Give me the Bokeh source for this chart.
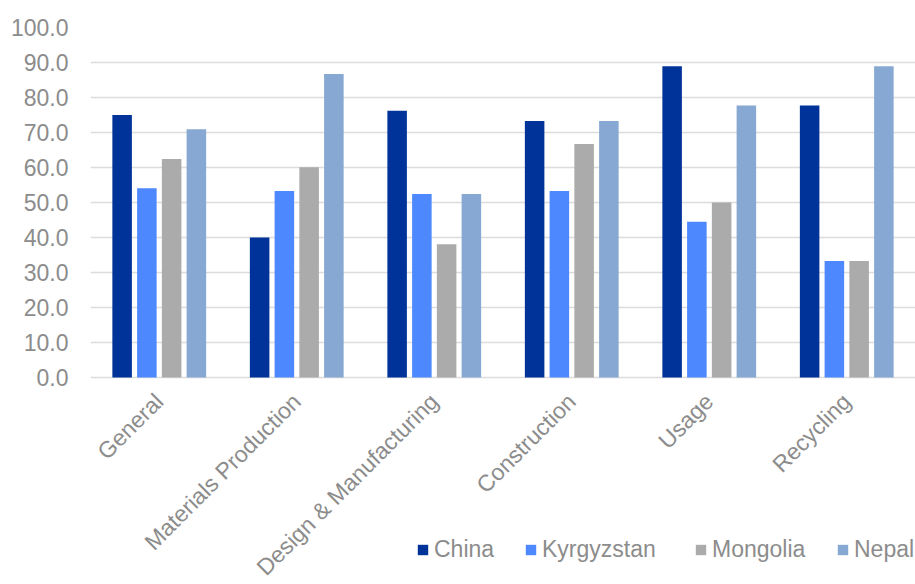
from bokeh.plotting import figure
from bokeh.models import (ColumnDataSource, FactorRange, Range1d, FixedTicker,
                          NumeralTickFormatter, Legend, LegendItem)
from bokeh.transform import dodge
from bokeh.embed import file_html
from bokeh.resources import INLINE
import math

categories = ["General", "Materials Production", "Design & Manufacturing",
              "Construction", "Usage", "Recycling"]
series_names = ["China", "Kyrgyzstan", "Mongolia", "Nepal"]
china = [75.0, 40.0, 76.2, 73.3, 88.9, 77.7]
kyrgyzstan = [54.1, 53.3, 52.4, 53.3, 44.5, 33.3]
mongolia = [62.4, 60.1, 38.1, 66.7, 50.0, 33.3]
nepal = [70.9, 86.7, 52.4, 73.3, 77.7, 88.9]
y_ticks = [0, 10, 20, 30, 40, 50, 60, 70, 80, 90, 100]

colors = ["#003399", "#4d88ff", "#ababab", "#86a8d2"]
offsets = [-0.27, -0.09, 0.09, 0.27]
legend_x = [326, 434, 604, 746]
FONT = "Liberation Sans"
TXT = "#8c8c8c"

src = ColumnDataSource(dict(cats=categories, China=china, Kyrgyzstan=kyrgyzstan,
                            Mongolia=mongolia, Nepal=nepal))

# frame spans the whole lower area so the legend below the bars is not clipped
p = figure(x_range=FactorRange(*categories, range_padding=0),
           y_range=Range1d(100 - 557 / 3.5, 100), width=915, height=584,
           output_backend="svg", toolbar_location=None,
           min_border_left=90, min_border_right=0, min_border_top=27,
           min_border_bottom=0)
p.outline_line_color = None
p.xgrid.grid_line_color = None
p.ygrid.grid_line_color = "#dcdcdc"
p.ygrid.grid_line_width = 1.5
p.ygrid.ticker = FixedTicker(ticks=y_ticks)
p.yaxis.ticker = FixedTicker(ticks=y_ticks)
p.yaxis.formatter = NumeralTickFormatter(format="0.0")
p.xaxis.fixed_location = 0
for ax in (p.xaxis, p.yaxis):
    ax.axis_line_color = None
    ax.major_tick_line_color = None
    ax.minor_tick_line_color = None
    ax.major_tick_out = 0
    ax.major_tick_in = 0
    ax.major_label_text_font = FONT
    ax.major_label_text_font_size = "23px"
    ax.major_label_text_color = TXT
p.yaxis.major_label_standoff = 22
p.xaxis.major_label_orientation = math.pi / 4
p.xaxis.major_label_standoff = 20

renderers = []
for name, col, off in zip(series_names, colors, offsets):
    r = p.vbar(x=dodge("cats", off, range=p.x_range), top=name, width=0.142,
               source=src, fill_color=col, line_color=None)
    renderers.append(r)

for name, r, lx in zip(series_names, renderers, legend_x):
    lg = Legend(items=[LegendItem(label=name, renderers=[r])],
                location=(lx, 21), orientation="horizontal",
                glyph_width=13, glyph_height=13, label_standoff=5,
                padding=0, margin=0, spacing=0, border_line_color=None,
                background_fill_alpha=0, label_text_font=FONT,
                label_text_font_size="23px", label_text_color=TXT)
    p.add_layout(lg, "center")

open("out.html", "w").write(file_html(p, INLINE))
